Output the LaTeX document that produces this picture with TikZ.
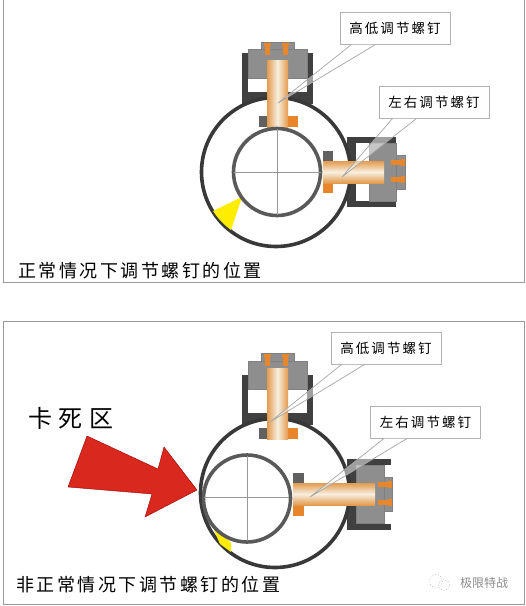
\documentclass[tikz,border=0pt]{standalone}
\usepackage{fontspec}
\setmainfont{Liberation Sans}
\newfontfamily\cjk{Noto Sans CJK SC}
\definecolor{screwc}{HTML}{E39A4C}
\definecolor{screwm}{HTML}{F7EFE0}
\definecolor{orngc}{HTML}{E8862C}
\definecolor{redc}{HTML}{D9281E}
\definecolor{grayc}{HTML}{8E8E8E}
\tikzset{
 panel/.style={draw=black!40,line width=1pt},
 ringo/.style={draw=black!78,line width=3.6pt,fill=white},
 ringi/.style={draw=black!65,line width=3.6pt,fill=white},
 cross/.style={draw=black!40,line width=.7pt},
 dark/.style={fill=black!75,draw=none},
 graybk/.style={fill=grayc,draw=black!50,line width=.4pt},
 screwv/.style={left color=screwc,right color=screwc,middle color=screwm,draw=none},
 screwh/.style={top color=screwc,bottom color=screwc,middle color=screwm,draw=none},
 orng/.style={fill=orngc,draw=none},
 flangeg/.style={fill=black!62,draw=none},
 yell/.style={fill=yellow!95!orange,draw=none},
 calloutbox/.style={draw=black!30,line width=1pt,fill=white,minimum width=110pt,minimum height=32pt,inner sep=0pt,font=\cjk\fontsize{13.5}{13.5}\selectfont},
 tail/.style={draw=black!35,line width=.7pt,fill=white,fill opacity=.5},
 caption/.style={font=\cjk\fontsize{18}{18}\selectfont,anchor=west,inner sep=0pt},
}
\begin{document}
\begin{tikzpicture}[x=1pt,y=-1pt]
\useasboundingbox (0,0) rectangle (526,606);
\fill[white] (0,0) rectangle (526,606);
% panels
\draw[panel] (3,0) -- (3,282) -- (524,282) -- (524,0);
\draw[panel] (3,321) rectangle (524,604);

% ---- upper diagram
\fill[dark] (242,53) rectangle (248,100);
\fill[dark] (307,53) rectangle (313,100);
\fill[dark] (242,92) -- (313,92) -- (313,104) -- (242,104) -- cycle;
\fill[white] (248,78) rectangle (307,92);
\fill[dark] (347,137) rectangle (396,143);
\fill[dark] (347,201) rectangle (396,207);
\fill[dark] (347,137) rectangle (357,207);
\fill[white] (356,143) rectangle (369,201);
\draw[ringo] (276,172) circle (74.5);
\fill[yell] (242,197) -- (213,211) to[bend right=9] (231,230) -- cycle;
\draw[graybk] (261,42) rectangle (294,49);
\draw[graybk] (248,49) rectangle (307,78);
\fill[orng] (265,43) rectangle (270,55);\fill[orng] (264,43) rectangle (271,46);
\fill[orng] (283,43) rectangle (288,55);\fill[orng] (282,43) rectangle (289,46);
\fill[flangeg] (259,116) rectangle (268,127);
\fill[orng] (287,116) rectangle (298,127);
\shade[screwv] (267,60) rectangle (288,127);
\draw[graybk] (369,143) -- (396,143) -- (396,201) -- (369,201) -- cycle;
\draw[graybk] (396,155) rectangle (405,189);
\fill[orng] (391,160) rectangle (404,165);\fill[orng] (401,159) rectangle (405,166);
\fill[orng] (391,177) rectangle (404,182);\fill[orng] (401,176) rectangle (405,183);
\fill[flangeg] (323,151) rectangle (333,162);
\fill[orng] (323,182) rectangle (333,193);
\shade[screwh] (323,161) rectangle (384,183);
\draw[ringi] (277,172) circle (43.5);
\draw[cross] (277,129) -- (277,215);
\draw[cross] (234,172) -- (321,172);

\node[calloutbox] (ua) at (395,28) {\addfontfeatures{LetterSpace=15}高低调节螺钉};
\node[calloutbox] (ub) at (434,102) {\addfontfeatures{LetterSpace=15}左右调节螺钉};
\coordinate (uat) at (278,103);
\coordinate (ubt) at (342,177);
\draw[tail] (ua.south west) ++(12,0) -- (uat) -- ([xshift=36pt]ua.south west);
\draw[tail] (ub.south west) ++(14,0) -- (ubt) -- ([xshift=38pt]ub.south west);
\node[caption] (ucap) at (18,271) {\addfontfeatures{LetterSpace=14}正常情况下调节螺钉的位置};

% ---- lower diagram
\fill[dark] (242,375) rectangle (248,422);
\fill[dark] (307,375) rectangle (313,422);
\fill[dark] (242,413) rectangle (313,425);
\fill[white] (248,389) rectangle (307,413);
\fill[dark] (347,459) rectangle (391,465);
\fill[dark] (347,524) rectangle (391,530);
\fill[dark] (347,459) rectangle (356,530);
\draw[ringo] (275,493) circle (74.5);
\draw[graybk] (261,353) rectangle (294,361);
\draw[graybk] (248,361) rectangle (307,389);
\fill[orng] (265,354) rectangle (270,366);\fill[orng] (264,354) rectangle (271,357);
\fill[orng] (283,354) rectangle (288,366);\fill[orng] (282,354) rectangle (289,357);
\fill[flangeg] (259,428) rectangle (268,439);
\fill[orng] (287,428) rectangle (298,439);
\shade[screwv] (267,368) rectangle (288,439);
\draw[graybk] (356,465) rectangle (384,523);
\draw[graybk] (384,477) rectangle (392,511);
\fill[orng] (378,482) rectangle (391,487);\fill[orng] (388,481) rectangle (392,488);
\fill[orng] (378,500) rectangle (391,505);\fill[orng] (388,499) rectangle (392,506);
\fill[flangeg] (293,473) rectangle (304,484);
\fill[orng] (293,505) rectangle (304,516);
\shade[screwh] (293,483) rectangle (375,505);
\fill[yell] (214,530) -- (224,535) -- (231,543) -- (231,552) -- (220,544) -- cycle;
\draw[ringi] (247,498.5) circle (43.5);
\draw[cross] (247,456) -- (247,541);
\draw[cross] (204,497) -- (289,497);

\node[calloutbox] (la) at (386,348) {\addfontfeatures{LetterSpace=15}高低调节螺钉};
\node[calloutbox] (lb) at (425.5,422) {\addfontfeatures{LetterSpace=15}左右调节螺钉};
\coordinate (lat) at (270,422);
\coordinate (lbt) at (310,497);
\draw[tail] (la.south west) ++(11,0) -- (lat) -- ([xshift=34pt]la.south west);
\draw[tail] (lb.south west) ++(14,0) -- (lbt) -- ([xshift=37pt]lb.south west);
\node[caption] (lcap) at (16,585) {\addfontfeatures{LetterSpace=14}非正常情况下调节螺钉的位置};

% red arrow and label
\fill[redc,draw=red!60!black,line width=.4pt] (87,436) -- (158,469) -- (164,447) -- (197,490) -- (145,517) -- (152,494) -- (68,487) -- cycle;
\node[font=\cjk\fontsize{24}{24}\selectfont,inner sep=0pt] (dead) at (71,418) {\addfontfeatures{LetterSpace=26}卡死区};

% watermark
\node[font=\cjk\fontsize{12}{12}\selectfont,text=black!45,inner sep=0pt] (mark) at (484,583) {极限特战};
\draw[black!25,line width=.7pt,dotted] (436,581) circle (6.5);
\draw[black!25,line width=.7pt,dotted] (444,585) circle (5.5);
\end{tikzpicture}
\end{document}
